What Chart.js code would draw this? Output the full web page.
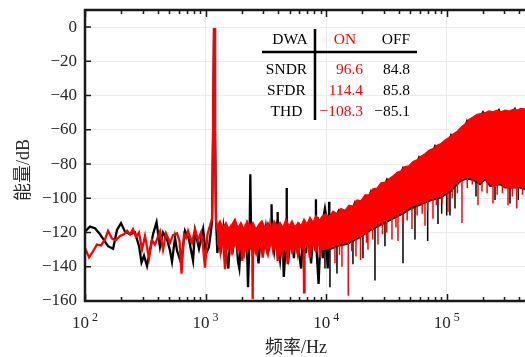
<!DOCTYPE html>
<html>
<head>
<meta charset="utf-8">
<script src="https://cdn.jsdelivr.net/npm/chart.js@4/dist/chart.umd.min.js"></script>
<style>
html,body{margin:0;padding:0;background:#fff;overflow:hidden;}
#wrap{width:525px;height:357px;}
</style>
</head>
<body>
<div id="wrap"><canvas id="c" width="525" height="357"></canvas></div>
<script>
// ---------- data (frequency in Hz, level in dB) ----------
// DWA ON (red): individual FFT bins, low / mid frequency
const onLow = [[100,-129],[108,-134.5],[116.6,-131],[125.7,-127],[135.7,-127.5],[146.5,-124],[155.2,-119],[167.5,-123.5],[180.7,-124.5],[195.1,-122],
[210.6,-121],[223.1,-119],[236.2,-121],[250,-118],[264.8,-122.5],[280.5,-120],[297,-130],[314.5,-122],[339.5,-135],[359.5,-124.5],
[380.7,-127],[418.8,-119.5],[443.5,-130],[469.7,-120.5],[507,-126],[536.9,-121.5],[579.5,-120.5],[608,-125],[632,-144],[662.4,-121],
[688.2,-123],[715,-119],[742.8,-122.5],[771.7,-126],[817.2,-118],[865.4,-124.5],[916.5,-120],[952.2,-128],[988.6,-140.5],[1037,-121],
[1078,-117],[1109,-114],[1133,-112],[1155,-60],[1175,-0.5],[1197,-60],[1220,-113],[1274,-121],[1325,-130.7],[1380,-119],
[1449,-141.4],[1513,-123],[1594,-118],[1656,-132.6],[1753,-117],[1833,-128.7],[1929,-119],[2015,-136.6],[2122,-120],[2218,-129.7],
[2335,-118],[2430,-120],[2457,-159],[2485,-121],[2569,-120],[2686,-130.7],[2827,-119],[2975,-134.6],[3110,-118],[3272,-132.6],[3421,-117],
[3600,-128.7],[3764,-119],[3961,-136.6],[4142,-117],[4358,-130.7],[4556,-120],[4795,-138.5],[5013,-118],[5275,-132.6],[5515,-116],
[5804,-130.7],[6068,-117],[6500,-124],[6556,-155],[6620,-125],[6949,-119],[7313,-134.6],[7717,-114],[8123,-130.7],[8514,-111],[8936,-134.6],
[9400,-113],[9900,-130]];
// DWA ON: upper and lower edge of the dense noise band
const onTop = [[1243,-116],[1317,-113],[1394,-117],[1477,-114],[1564,-118],[1656,-115],[1753,-112],[1857,-117],[1966,-114],[2082,-118],
[2205,-113],[2335,-116],[2473,-114],[2618,-118],[2773,-115],[2936,-113],[3110,-117],[3293,-114],[3487,-118],[3693,-113],
[3911,-116],[4142,-114],[4386,-117],[4644,-112],[4918,-116],[5208,-113],[5515,-117],[5840,-114],[6185,-116],[6549,-112],
[6935,-115],[7345,-111],[7777,-114],[8236,-110],[8722,-113],[9236,-110.5],[9961,-109],[10550,-111],[11387,-107.5],[12291,-109],[13267,-106],
[14320,-107],[15457,-104],[16685,-104.5],[18009,-101],[19439,-101.5],[20982,-98],[22648,-98],[24446,-94.5],[26387,-94],[28482,-91],
[30743,-90.5],[33184,-88.5],[35818,-87],[38662,-85],[41731,-84],[45045,-81.5],[48622,-81],[52482,-78.5],[56648,-77.5],[61146,-75.5],
[66000,-74],[71241,-72],[76896,-71],[83000,-69],[89591,-68],[96703,-66],[104381,-64.5],[112670,-62.5],[121613,-61],[131268,-58.5],
[141690,-56.5],[152938,-54],[165084,-52.5],[178187,-51],[192334,-50.5],[207605,-50],[224089,-49],[241880,-49.5],[261080,-48.5],[281810,-49.5],
[304184,-48.5],[328340,-49],[354400,-48],[382536,-48.5],[412910,-47.5],[454300,-48]];
const onBottom = [[1243,-126],[1317,-130],[1394,-125],[1477,-132],[1564,-127],[1656,-133],[1753,-126],[1857,-131],[1966,-128],[2082,-134],
[2205,-126],[2335,-130],[2473,-127],[2618,-133],[2773,-126],[2936,-131],[3110,-128],[3293,-134],[3487,-126],[3693,-130],
[3911,-127],[4142,-133],[4386,-128],[4644,-131],[4918,-126],[5208,-132],[5515,-128],[5840,-134],[6185,-127],[6549,-131],
[6935,-126],[7345,-132],[7777,-127],[8236,-131],[8722,-126],[9236,-130],[10753,-129],[12500,-127],[14900,-126],[19071,-122],
[20982,-120.5],[23085,-118],[25398,-116.5],[27943,-114.5],[30743,-113],[33824,-112],[37213,-110],[40942,-108.5],[45045,-107],[49559,-105],
[54525,-104],[59989,-103],[66000,-102],[72614,-100.5],[79890,-99.5],[87896,-99],[96703,-97],[106394,-95],[117056,-92],[128785,-89.5],
[141690,-88],[155888,-88],[171510,-89],[188696,-91],[207605,-88],[228409,-92],[251297,-93],[276479,-91],[304184,-93],[334666,-94],
[405099,-93],[454300,-94]];
// DWA ON: isolated downward spurs below the band  [freq, from dB, to dB]
const onSpikes = [[11830,-128,-138],[12900,-127,-133],[13523,-127,-140],[15253,-126,-157],[16300,-125,-131],[17668,-124,-134],[19280,-122,-136],
[21600,-120,-126],[22219,-119,-130],[24300,-117,-124],[26899,-115,-127],[29300,-114,-121],[31800,-113,-120],[35141,-111,-124],[37900,-110,-117],
[39412,-109,-125],[43000,-108,-115],[47000,-106,-113],[51488,-105,-118],[56800,-104,-110],[62500,-103,-109],[66000,-102,-116],[69400,-101,-107],
[76896,-100,-112],[82000,-99,-104],[91500,-98,-103],[102407,-96,-108],[111000,-94,-100],[122500,-91,-97],[133799,-89,-114.5],[148000,-88,-94],
[163000,-88,-92],[181646,-90,-104],[196000,-90,-96],[216000,-90,-97],[241880,-92,-103],[262000,-92,-98],[290000,-92,-97],[322162,-93,-104],
[350000,-93,-99],[380390,-93,-106],[425000,-93,-98]];

// DWA OFF (black)
const offLow = [[100,-119.5],[110,-116.5],[121,-117.5],[133.2,-121],[143.7,-124.5],[155.2,-128],[171,-129.5],[184.3,-118.5],[198.9,-114.5],[214.7,-119.5],
[236.2,-121],[259.8,-120],[280.5,-128],[294.3,-137.5],[308.6,-133.5],[326.8,-139.5],[346,-130],[366.6,-121],[392,-114],[418.8,-128.5],
[443.5,-120],[479,-124],[507,-130.5],[526.8,-137],[557.8,-123],[579.5,-130.5],[624.6,-137.5],[675.2,-119],[728,-124],[787,-136.5],
[817.2,-119],[882,-129.5],[954,-118],[1005,-132.5],[1066,-128.5],[1131,-114],[1155,-60],[1175,-0.5],[1197,-60],[1220,-112],
[1252,-132],[1301,-120],[1352,-128],[1405,-117],[1475,-131],[1544,-141],[1607,-121],[1688,-129],[1770,-118],[1858,-137],
[1905,-141],[1981,-122],[2082,-131],[2185,-117],[2249,-152],[2320,-121],[2350,-86],[2385,-123],[2472,-133],[2596,-119],
[2749,-138],[2884,-121],[3025,-130],[3170,-117],[3330,-128],[3490,-121],[3525,-103.5],[3560,-123],[3700,-131],[3850,-119],
[3930,-125],[3960,-108],[3990,-126],[4150,-136],[4350,-120],[4450,-146],[4680,-122],[4700,-94],[4720,-121],[4900,-133],
[5150,-118],[5400,-135],[5650,-117],[5900,-130],[6200,-141],[6500,-116],[6800,-132],[7100,-119],[7500,-138],[7900,-115],
[8190,-124],[8225,-100.5],[8260,-126],[8650,-150],[9000,-121],[9400,-135],[9800,-114],[10300,-141],[10520,-124],[10575,-102],[10630,-124]];
const offTop = [[9236,-114],[9773,-104],[10251,-113],[10960,-111],[11606,-112],[12770,-106.5],[13523,-111],[14877,-107.5],[15755,-109],[17334,-101.8],
[18356,-106],[20196,-101.5],[21387,-103],[23530,-95.3],[24918,-99],[27414,-94.5],[29031,-95],[31940,-88.5],[33824,-92],[37213,-88],
[39408,-89],[43357,-81.8],[45913,-86],[50514,-81.5],[53496,-83],[58854,-75.5],[62324,-79],[68569,-75],[72614,-76],[79890,-69],
[84603,-73],[93080,-69],[98567,-70],[108445,-62.5],[114842,-66],[126350,-62],[133799,-62],[147206,-54.3],[155888,-58],[171510,-53.5],
[181626,-54],[199826,-49.2],[211608,-53],[232813,-51],[246544,-53],[271249,-48],[287243,-53],[316026,-50.5],[334666,-53],[368202,-47.2],
[389920,-52],[429000,-49.5],[454300,-52]];
const offBottom = [[9236,-130],[10753,-130],[12500,-128],[14900,-127],[19071,-123],[23085,-119],[27943,-116],[33824,-113],[37213,-111.5],[45045,-108.5],
[49559,-106.5],[59989,-104],[72614,-101.5],[87896,-100],[106394,-96.5],[128785,-90.5],[141690,-89],[155888,-89],[171510,-90],[188696,-92],
[207605,-89],[228409,-93],[276479,-92],[304184,-94],[405099,-94],[454300,-95]];
const offSpikes = [[9773,-129,-141],[10753,-129,-152],[12291,-127,-144],[16685,-124,-138.5],[20196,-121,-135],[25398,-116.5,-148],[30743,-113,-128],
[43357,-108,-138],[54525,-104,-124],[69490,-101,-125],[84603,-99.5,-115],[90780,-99,-109],[99875,-97.5,-110],[106394,-95.5,-110],[117056,-92.5,-106],
[174817,-90,-99],[251297,-93,-101],[334666,-94,-103],[392460,-94,-101]];

// axes
const xTickValues = [100,200,300,400,500,600,700,800,900,1000,2000,3000,4000,5000,6000,7000,8000,9000,
10000,20000,30000,40000,50000,60000,70000,80000,90000,100000,200000,300000,400000];
const xMajorTicks = [100,1000,10000,100000];
const xMajorExponents = ['2','3','4','5'];
const yTickValues = [-160,-140,-120,-100,-80,-60,-40,-20,0];
const xTitle = '频率/Hz';
const yTitle = '能量/dB';

// annotation table
const tableHeader = ['DWA','ON','OFF'];
const tableRows = ['SNDR','SFDR','THD'];
const tableOn = ['96.6','114.4','\u2212108.3'];
const tableOff = ['84.8','85.8','\u221285.1'];

// ---------- chart ----------
const RED = '#ff0000', BLACK = '#000000';
const pts = a => a.map(p => ({x:p[0], y:p[1]}));
const segs = a => a.flatMap(s => [{x:s[0], y:s[1]}, {x:s[0], y:s[2]}, {x:s[0], y:null}]);
const majorSet = new Set(xMajorTicks);
const SERIF = '"Liberation Serif", "Times New Roman", serif';
const CJK = '"Liberation Serif", "Noto Sans CJK SC", serif';

const overlay = {
  id:'overlay',
  afterDatasetsDraw(chart){
    const ctx = chart.ctx, xs = chart.scales.x, ys = chart.scales.y;
    const {left, right, top, bottom} = chart.chartArea;
    ctx.save();
    ctx.strokeStyle = '#1a1a1a';
    ctx.lineWidth = 1.5;
    ctx.beginPath();
    xTickValues.forEach(v => {
      const px = Math.round(xs.getPixelForValue(v)) + 0.5;
      const len = majorSet.has(v) ? 7 : 4;
      ctx.moveTo(px, bottom); ctx.lineTo(px, bottom - len);
      ctx.moveTo(px, top); ctx.lineTo(px, top + len);
    });
    yTickValues.forEach(v => {
      const py = ys.getPixelForValue(v);
      ctx.moveTo(left, py); ctx.lineTo(left + 6, py);
    });
    ctx.stroke();
    ctx.lineWidth = 2.5;
    ctx.beginPath();
    ctx.moveTo(left, top); ctx.lineTo(right + 3, top);
    ctx.moveTo(left, top - 1.25); ctx.lineTo(left, bottom + 1.25);
    ctx.moveTo(left, bottom); ctx.lineTo(right + 3, bottom);
    ctx.stroke();
    ctx.fillStyle = '#262626';
    ctx.font = '17px ' + SERIF;
    ctx.textAlign = 'right';
    ctx.textBaseline = 'middle';
    yTickValues.forEach(v => {
      const lab = v < 0 ? '\u2212' + Math.abs(v) : String(v);
      ctx.fillText(lab, left - 8, ys.getPixelForValue(v));
    });
    ctx.textAlign = 'left';
    ctx.textBaseline = 'alphabetic';
    xMajorTicks.forEach((v, i) => {
      const px = xs.getPixelForValue(v);
      ctx.font = '17px ' + SERIF;
      const w1 = ctx.measureText('10').width;
      ctx.font = '12px ' + SERIF;
      const w2 = ctx.measureText(xMajorExponents[i]).width;
      const gap = 3;
      const x0 = px - (w1 + gap + w2) / 2;
      ctx.font = '17px ' + SERIF;
      ctx.fillText('10', x0, 328);
      ctx.font = '12px ' + SERIF;
      ctx.fillText(xMajorExponents[i], x0 + w1 + gap, 321);
    });
    ctx.font = '18px ' + CJK;
    ctx.textAlign = 'center';
    ctx.fillText(xTitle, 296, 353);
    ctx.save();
    ctx.translate(24, 170);
    ctx.rotate(-Math.PI / 2);
    ctx.textBaseline = 'middle';
    ctx.fillText(yTitle, 0, 0);
    ctx.restore();
    ctx.font = '15.5px ' + SERIF;
    ctx.textBaseline = 'middle';
    ctx.textAlign = 'center';
    ctx.fillStyle = BLACK;
    ctx.fillText(tableHeader[0], 290, 40);
    ctx.fillStyle = RED;
    ctx.fillText(tableHeader[1], 345, 40);
    ctx.fillStyle = BLACK;
    ctx.fillText(tableHeader[2], 396, 40);
    const rowY = [70, 91, 112];
    tableRows.forEach((r, i) => {
      ctx.textAlign = 'center'; ctx.fillStyle = BLACK;
      ctx.fillText(r, 286.5, rowY[i]);
      ctx.textAlign = 'right'; ctx.fillStyle = RED;
      ctx.fillText(tableOn[i], 363, rowY[i]);
      ctx.fillStyle = BLACK;
      ctx.fillText(tableOff[i], 410, rowY[i]);
    });
    ctx.strokeStyle = BLACK;
    ctx.lineWidth = 2.5;
    ctx.beginPath();
    ctx.moveTo(262, 52); ctx.lineTo(417, 52);
    ctx.moveTo(315, 29); ctx.lineTo(315, 120);
    ctx.stroke();
    ctx.restore();
  }
};

const lineDs = (label, data, color, width, order, fill) => ({
  label, data, showLine:true, borderColor:color, backgroundColor:color, borderWidth:width,
  pointRadius:0, fill:fill || false, order, spanGaps:false
});

new Chart(document.getElementById('c'), {
  type:'scatter',
  data:{ datasets:[
    lineDs('DWA ON', pts(onLow), RED, 2.3, 1),
    lineDs('ON top', pts(onTop), RED, 1.2, 1, '+1'),
    lineDs('ON bottom', pts(onBottom), RED, 1.2, 1),
    lineDs('ON spurs', segs(onSpikes), RED, 1.5, 1),
    lineDs('DWA OFF', pts(offLow), BLACK, 2.3, 2),
    lineDs('OFF top', pts(offTop), BLACK, 1.2, 2, '+1'),
    lineDs('OFF bottom', pts(offBottom), BLACK, 1.2, 2),
    lineDs('OFF spurs', segs(offSpikes), BLACK, 1.5, 2)
  ]},
  options:{
    responsive:false, animation:false, devicePixelRatio:1,
    layout:{padding:{top:10, right:0, bottom:0, left:0}},
    plugins:{legend:{display:false}, tooltip:{enabled:false}},
    scales:{
      x:{type:'logarithmic', min:100, max:445700,
         afterBuildTicks:s => { s.ticks = xTickValues.map(v => ({value:v, major:majorSet.has(v)})); },
         ticks:{display:false},
         grid:{color:c => (c.tick && majorSet.has(c.tick.value)) ? '#ebebeb' : 'rgba(0,0,0,0)', lineWidth:1, drawTicks:false},
         border:{display:false},
         afterFit:s => { s.height = 56; }},
      y:{type:'linear', min:-160, max:10,
         afterBuildTicks:s => { s.ticks = yTickValues.map(v => ({value:v})); },
         ticks:{display:false},
         grid:{color:'#ebebeb', lineWidth:1, drawTicks:false},
         border:{display:false},
         afterFit:s => { s.width = 85; }}
    }
  },
  plugins:[overlay]
});
</script>
</body>
</html>
